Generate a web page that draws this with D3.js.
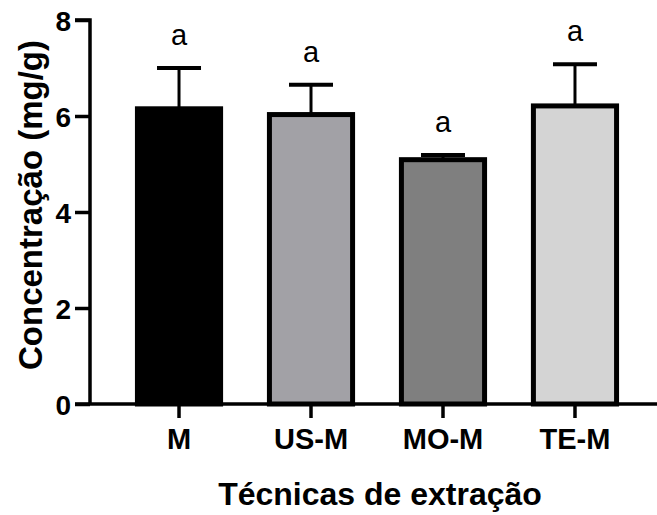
<!DOCTYPE html>
<html>
<head>
<meta charset="utf-8">
<script src="https://cdn.jsdelivr.net/npm/d3@7"></script>
<style>
  html, body { margin: 0; padding: 0; background: #fff; }
  svg { display: block; }
  text { font-family: "Liberation Sans", Arial, sans-serif; font-weight: bold; fill: #000; }
</style>
</head>
<body>
<svg id="chart" width="657" height="515"></svg>
<script>
// Extraction techniques and measured concentration (mg/g)
const categories = ["M", "US-M", "MO-M", "TE-M"];
const means = [6.15, 6.03, 5.09, 6.21];
const errorTops = [7.0, 6.65, 5.19, 7.08];
const letters = ["a", "a", "a", "a"];
const fills = ["#000000", "#a2a1a6", "#7f7f7f", "#d4d4d4"];
const yTicks = [0, 2, 4, 6, 8];

const svg = d3.select("#chart");
const plotLeft = 90, plotBottom = 404, plotTop = 20, plotRight = 657;

const x = d3.scaleBand()
  .domain(categories)
  .range([115, 639])
  .paddingInner(0.37)
  .paddingOuter(0.17);

const y = d3.scaleLinear().domain([0, 8]).range([plotBottom, plotTop]);

// Bars
svg.append("g").selectAll("rect")
  .data(categories)
  .join("rect")
  .attr("x", d => x(d))
  .attr("y", (d, i) => y(means[i]))
  .attr("width", x.bandwidth())
  .attr("height", (d, i) => y(0) - y(means[i]))
  .attr("fill", (d, i) => fills[i])
  .attr("stroke", "#000")
  .attr("stroke-width", 5);

// Error bars (upper only)
const err = svg.append("g").attr("stroke", "#000").attr("stroke-width", 4);
categories.forEach((c, i) => {
  const cx = x(c) + x.bandwidth() / 2;
  err.append("line")
    .attr("x1", cx).attr("x2", cx)
    .attr("y1", y(means[i])).attr("y2", y(errorTops[i]))
    .attr("stroke-width", 3);
  err.append("line")
    .attr("x1", cx - 22).attr("x2", cx + 22)
    .attr("y1", y(errorTops[i])).attr("y2", y(errorTops[i]));
});

// Significance letters
svg.append("g").selectAll("text")
  .data(categories)
  .join("text")
  .attr("x", d => x(d) + x.bandwidth() / 2)
  .attr("y", (d, i) => y(errorTops[i]) - 23)
  .attr("text-anchor", "middle")
  .style("font-weight", "normal")
  .style("font-size", "29px")
  .text((d, i) => letters[i]);

// Y axis
const yAxis = svg.append("g")
  .attr("transform", `translate(${plotLeft},0)`)
  .call(d3.axisLeft(y).tickValues(yTicks).tickSize(15).tickPadding(4).tickFormat(d3.format("d")));
yAxis.select(".domain").attr("stroke-width", 3.5).attr("d", `M-15,${y(8)}H0V${plotBottom}`);
yAxis.selectAll(".tick line").attr("stroke-width", 3.5);
yAxis.selectAll(".tick text").style("font-size", "28px").attr("dy", "0.36em");

// X axis
const xAxis = svg.append("g")
  .attr("transform", `translate(0,${plotBottom})`)
  .call(d3.axisBottom(x).tickSize(14).tickPadding(10));
xAxis.select(".domain").attr("stroke-width", 3.5).attr("d", `M${plotLeft - 15},0H${plotRight}`);
xAxis.selectAll(".tick line").attr("stroke-width", 3.5);
xAxis.selectAll(".tick text").style("font-size", "29px");

// Axis titles
svg.append("text")
  .attr("x", 380).attr("y", 505)
  .attr("text-anchor", "middle")
  .style("font-size", "32px")
  .text("Técnicas de extração");

svg.append("text")
  .attr("transform", "translate(42,205) rotate(-90)")
  .attr("text-anchor", "middle")
  .style("font-size", "33px")
  .text("Concentração (mg/g)");
</script>
</body>
</html>
